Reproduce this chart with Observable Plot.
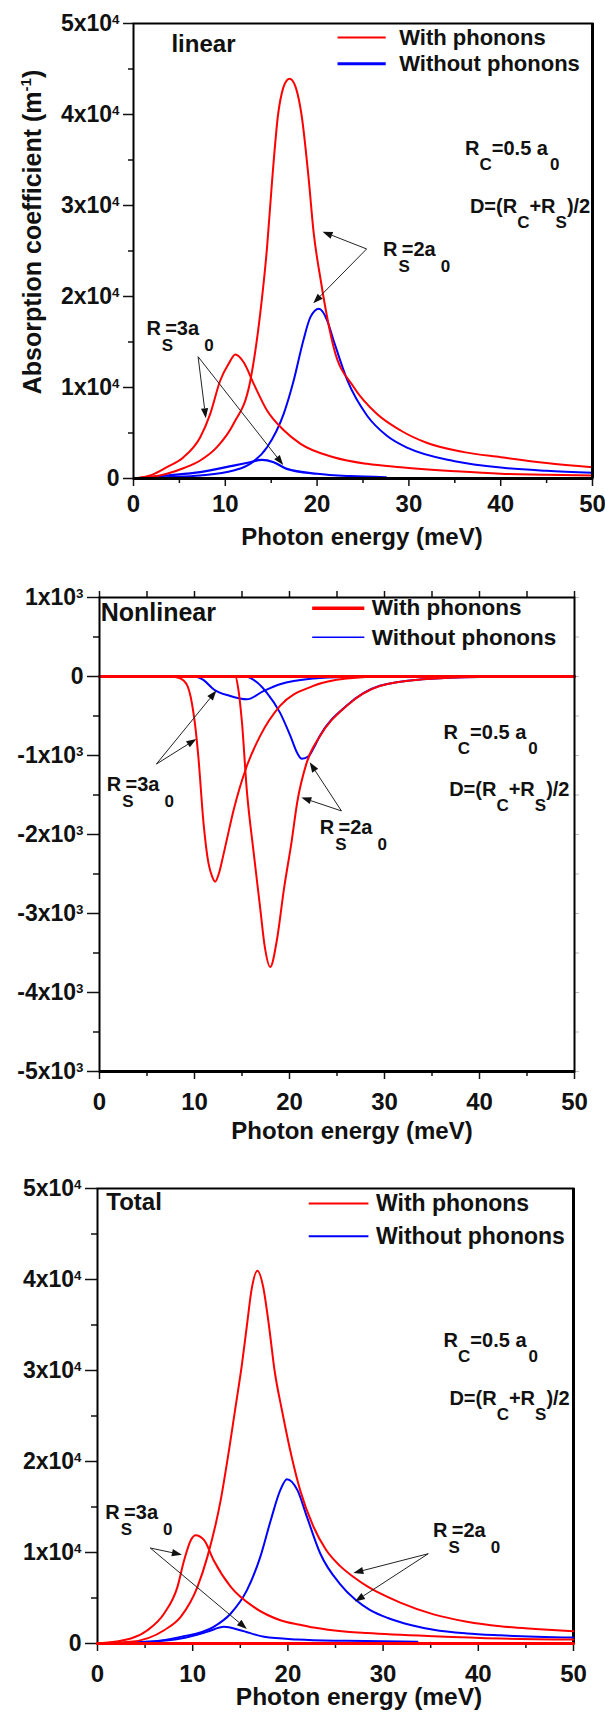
<!DOCTYPE html>
<html><head><meta charset="utf-8">
<script src="https://cdn.jsdelivr.net/npm/d3@7"></script>
<script src="https://cdn.jsdelivr.net/npm/@observablehq/plot@0.6"></script>
<style>
body{margin:0;background:#fff;}
#wrap{position:relative;width:605px;height:1713px;overflow:hidden;background:#fff;}
#wrap > svg{position:absolute;left:0;}
</style></head><body><div id="wrap"></div>
<script>
const FONT = '"Liberation Sans", Arial, Helvetica, sans-serif';
const RED = "#ff0000", BLUE = "#0000ff";

// ---------- tick values ----------
const xMajor = [0, 10, 20, 30, 40, 50];
const xMinor = [5, 15, 25, 35, 45];
const xAll = [0, 5, 10, 15, 20, 25, 30, 35, 40, 45, 50];
const yAbsMajor = [0, 10000, 20000, 30000, 40000, 50000];
const yAbsMinor = [5000, 15000, 25000, 35000, 45000];
const yNlMajor = [-5000, -4000, -3000, -2000, -1000, 0, 1000];
const yNlMinor = [-4500, -3500, -2500, -1500, -500, 500];
const yNlAll = [-5000, -4500, -4000, -3500, -3000, -2500, -2000, -1500, -1000, -500, 0, 500, 1000];

// ---------- Panel 1: linear ----------
const linE_red2 = [0, 2, 3.64, 5.5, 7.27, 9.09, 10.9, 12.73, 13.8, 14.55, 15.1, 15.75, 16.3, 16.7, 17.0, 17.3, 17.7, 18.3, 19.1, 19.6, 20.4, 21.8, 24.0, 26.5, 29.1, 32, 36, 40, 45, 50];
const linV_red2 = [0, 180, 517, 1150, 1978, 3440, 6010, 10770, 18100, 25420, 32750, 40000, 42900, 43750, 43930, 43750, 42900, 40000, 32750, 27250, 21760, 14430, 10030, 7110, 5275, 3900, 2900, 2340, 1700, 1240];
const linE_red3 = [0, 2, 3.64, 5.45, 7.27, 8.36, 9.45, 10.36, 11.09, 12.0, 13.1, 14.55, 16.4, 18.2, 21.8, 25.45, 29.1, 35, 40, 45, 50];
const linV_red3 = [0, 400, 1240, 2340, 4540, 7110, 10770, 12600, 13630, 12780, 10400, 7470, 5275, 3810, 2340, 1610, 1240, 800, 520, 420, 330];
const linE_blue2 = [0, 3.64, 7.27, 10.9, 12.7, 14.55, 16.36, 17.45, 18.5, 19.27, 20.2, 21.1, 21.8, 23.3, 25.45, 27.6, 30, 35, 40, 45, 50];
const linV_blue2 = [0, 150, 330, 880, 1610, 3440, 7110, 10770, 15170, 17730, 18650, 17360, 15170, 10770, 6900, 4700, 3300, 1900, 1200, 850, 630];
const linE_blue3 = [0, 3.64, 7.27, 10.9, 12.7, 14.0, 15.27, 16.7, 20.0, 23.6, 27.5];
const linV_blue3 = [0, 330, 700, 1420, 1790, 2050, 1790, 1060, 520, 260, 140];

// ---------- Panel 2: nonlinear ----------
const nlE_red3 = [0, 7.4, 8.3, 8.84, 9.3, 9.6, 9.85, 10.07, 10.4, 10.95, 11.47, 11.85, 12.18, 12.55, 13.0, 13.4, 14.1, 15.5, 16.9, 19.0, 22.5, 26.0, 30, 50];
const nlV_red3 = [0, 0, -15, -50, -130, -260, -430, -620, -1009, -1855, -2363, -2530, -2597, -2500, -2280, -2067, -1700, -1136, -755, -373, -119, -25, 0, 0];
const nlE_red2 = [0, 14.3, 14.6, 15.0, 15.5, 16.2, 16.9, 17.4, 17.97, 18.67, 19.4, 20.25, 20.8, 21.8, 23.2, 26.0, 29.5, 34, 40, 50];
const nlV_red2 = [0, 0, -150, -585, -1432, -2200, -2915, -3423, -3677, -3338, -2703, -2067, -1601, -1093, -755, -373, -120, -35, -5, 0];
const nlE_blue3 = [0, 10.0, 11.0, 12.0, 13.76, 15.5, 17.3, 19.0, 22.5, 26, 30, 50];
const nlV_blue3 = [0, 0, -50, -161, -246, -288, -182, -98, -25, -5, 0, 0];
const nlE_blue2 = [0, 15.3, 16.6, 17.6, 19.0, 20.1, 20.8, 21.3, 22.0, 22.5, 23.2, 26, 29.5, 34, 40, 50];
const nlV_blue2 = [0, 0, -76, -203, -457, -755, -966, -1042, -1010, -915, -750, -370, -118, -35, -5, 0];

// ---------- Panel 3: total ----------
const totE_red2 = [0, 3.5, 7.0, 8.74, 10.5, 11.54, 12.94, 13.85, 14.5, 15.15, 15.7, 16.2, 16.8, 17.4, 18.0, 18.6, 19.4, 20.4, 21.3, 22.7, 24.0, 25.5, 26.9, 28.3, 29.7, 31.8, 35.3, 38.8, 42.3, 46, 50];
const totV_red2 = [0, 180, 1460, 2920, 6220, 9520, 15750, 21500, 26000, 30500, 35000, 39000, 40950, 39200, 35000, 30000, 25500, 20500, 16800, 12800, 10300, 8500, 7300, 6300, 5500, 4500, 3200, 2400, 1900, 1600, 1350];
const totE_red3 = [0, 3.5, 5.25, 7.0, 8.4, 9.1, 9.8, 10.3, 11.2, 12.2, 14.0, 16.4, 19.2, 21.3, 22.7, 26.2, 28.3, 35.3, 42.3, 50];
const totV_red3 = [0, 550, 1460, 3300, 6220, 9150, 11350, 11900, 11350, 9150, 6220, 4020, 2560, 2050, 1750, 1300, 1150, 800, 550, 440];
const totE_blue2 = [0, 5.25, 8.74, 12.2, 14.0, 15.7, 17.1, 18.2, 19.2, 19.9, 21.0, 22.0, 23.4, 25.5, 27.1, 28.6, 30.5, 33, 35.3, 38.8, 42.3, 50];
const totV_blue2 = [0, 180, 730, 1830, 3300, 5860, 9520, 13550, 16850, 18060, 16850, 13910, 9890, 6500, 4800, 3700, 2800, 2000, 1500, 1100, 900, 660];
const totE_blue3 = [0, 5.25, 8.74, 11.5, 13.3, 15.0, 17.5, 21.0, 26.2, 33.6];
const totV_blue3 = [0, 180, 550, 1280, 1830, 1460, 730, 440, 290, 200];
const zeroE = [0, 50];
const zeroV = [0, 0];

// ---------- labels ----------
const legendLabels = ["With phonons", "Without phonons"];
const panelTitles = ["linear", "Nonlinear", "Total"];
const xTitle = "Photon energy (meV)";

// ---------- helpers ----------
const series = (E, V) => E.map((e, i) => ({E: e, V: V[i]}));
const sci = (exp) => (d) => d === 0 ? "0" : `${d / 10 ** exp}x10^${exp}`;
const line = (E, V, stroke, w = 2) => Plot.line(series(E, V), {x: "E", y: "V", stroke, strokeWidth: w, curve: "monotone-x"});

function notesMark(notes) {
  return (index, scales) => {
    const g = d3.create("svg:g").attr("font-family", FONT).attr("font-weight", "bold")
      .attr("fill", "#111").attr("text-anchor", "start");
    for (const n of notes) {
      const t = g.append("text").attr("x", scales.x(n.x)).attr("y", scales.y(n.y)).attr("font-size", n.size || 20);
      for (const [s, dy, dx, fs] of n.parts) {
        const sp = t.append("tspan").text(s);
        if (dy) sp.attr("dy", dy);
        if (dx) sp.attr("dx", dx);
        if (fs) sp.attr("font-size", fs);
      }
    }
    return g.node();
  };
}
function arrowMark(arrows) {
  // shafts + filled heads positioned through the plot's scales
  return (index, scales) => {
    const g = d3.create("svg:g");
    for (const a of arrows) {
      const x1 = scales.x(a.x1), y1 = scales.y(a.y1), x2 = scales.x(a.x2), y2 = scales.y(a.y2);
      const ang = Math.atan2(y2 - y1, x2 - x1), L = 10, W = 3.6;
      const bx = x2 - L * Math.cos(ang), by = y2 - L * Math.sin(ang);
      g.append("line").attr("x1", x1).attr("y1", y1).attr("x2", bx).attr("y2", by)
        .attr("stroke", "#222").attr("stroke-width", 1);
      const px = -Math.sin(ang) * W, py = Math.cos(ang) * W;
      g.append("path").attr("d", `M${x2},${y2}L${bx + px},${by + py}L${bx - px},${by - py}Z`).attr("fill", "#111");
    }
    return g.node();
  };
}
function titleMark(spec) {
  return () => {
    const g = d3.create("svg:g").attr("font-family", FONT).attr("font-weight", "bold").attr("fill", "#111");
    const t = g.append("text").attr("text-anchor", "middle").attr("font-size", spec.size)
      .attr("transform", `translate(${spec.cx},${spec.by})` + (spec.rotate ? ` rotate(${spec.rotate})` : ""));
    for (const [s, dy, fs] of spec.parts) {
      const sp = t.append("tspan").text(s);
      if (dy) sp.attr("dy", dy);
      if (fs) sp.attr("font-size", fs);
    }
    return g.node();
  };
}
function fixSup(svg) {
  svg.querySelectorAll("text").forEach(t => {
    if (t.children.length === 0 && t.textContent.includes("^")) {
      const [base, sup] = t.textContent.split("^");
      t.textContent = base;
      const ts = document.createElementNS("http://www.w3.org/2000/svg", "tspan");
      ts.setAttribute("dy", "-0.55em");
      ts.setAttribute("font-size", "0.58em");
      ts.textContent = sup;
      t.appendChild(ts);
    }
  });
}
const RS3 = [["R", 0], ["S", 16, 1, 17], ["=3a", -16, -8], ["0", 16, 5, 17]];
const RS2 = [["R", 0], ["S", 16, 1, 17], ["=2a", -16, -8], ["0", 16, 5, 17]];
const RC = [["R", 0], ["C", 15, 0, 17], ["=0.5 a", -15, 0], ["0", 15, 2, 17]];
const DD = [["D=(R", 0], ["C", 15, 0, 17], ["+R", -15, 0], ["S", 15, 0, 17], [")/2", -15, 0]];
const style = {fontFamily: FONT, fontWeight: "bold", fontSize: "24px", color: "#111", background: "white", overflow: "visible"};

// ---------- Panel 1 ----------
const p1 = Plot.plot({
  width: 605, height: 560, marginTop: 23, marginBottom: 82, marginLeft: 133, marginRight: 13,
  x: {domain: [0, 50]}, y: {domain: [0, 50000]}, style,
  marks: [
    Plot.axisX({ticks: xMajor, tickSize: 8, tickPadding: 8, tickFormat: d => String(d), label: null, strokeWidth: 1.5}),
    Plot.axisX({ticks: xMinor, tickSize: 5, tickFormat: () => "", label: null, strokeWidth: 1.5}),
    Plot.axisY({ticks: yAbsMajor, tickSize: 10, tickPadding: 4, tickFormat: sci(4), label: null, strokeWidth: 1.5, fontSize: 23}),
    Plot.axisY({ticks: yAbsMinor, tickSize: 5, tickFormat: () => "", label: null, strokeWidth: 1.5}),
    line(linE_blue3, linV_blue3, BLUE, 2.2),
    line(linE_blue2, linV_blue2, BLUE, 2),
    line(linE_red3, linV_red3, RED, 2),
    line(linE_red2, linV_red2, RED, 2),
    Plot.frame({stroke: "#000", strokeWidth: 2}),
    Plot.ruleY([0], {stroke: "#000", strokeWidth: 3}),
    Plot.ruleX([50], {stroke: "#000", strokeWidth: 3}),
    Plot.ruleY([{y: 48470, x1: 22.28, x2: 27.53}], {y: "y", x1: "x1", x2: "x2", stroke: RED, strokeWidth: 2}),
    Plot.ruleY([{y: 45575, x1: 22.28, x2: 27.53}], {y: "y", x1: "x1", x2: "x2", stroke: BLUE, strokeWidth: 3}),
    arrowMark([
      {x1: 25.45, y1: 25170, x2: 20.65, y2: 27070},
      {x1: 25.45, y1: 25170, x2: 19.63, y2: 19200},
      {x1: 7.09, y1: 13330, x2: 7.93, y2: 6560},
      {x1: 7.09, y1: 13330, x2: 16.36, y2: 1430}
    ]),
    notesMark([
      {x: 4.19, y: 46817, size: 24, parts: [[panelTitles[0], 0]]},
      {x: 29.0, y: 47587, size: 22, parts: [[legendLabels[0], 0]]},
      {x: 29.0, y: 44707, size: 22, parts: [[legendLabels[1], 0]]},
      {x: 36.17, y: 35498, parts: RC},
      {x: 36.7, y: 29124, parts: DD},
      {x: 27.23, y: 24398, parts: RS2},
      {x: 1.46, y: 15716, parts: RS3}
    ]),
    titleMark({cx: 362, by: 545, size: 24, parts: [[xTitle, 0]]}),
    titleMark({cx: 41, by: 232, size: 25, rotate: -90, parts: [["Absorption coefficient (m", 0], ["-1", -10, 15], [")", 10]]})
  ]
});

// ---------- Panel 2 ----------
const p2 = Plot.plot({
  width: 605, height: 590, marginTop: 37, marginBottom: 79, marginLeft: 99, marginRight: 31,
  x: {domain: [0, 50]}, y: {domain: [-5000, 1000]}, style,
  marks: [
    Plot.axisX({ticks: xMajor, tickSize: 8, tickPadding: 13, tickFormat: d => String(d), label: null, strokeWidth: 1.5}),
    Plot.axisX({ticks: xMinor, tickSize: 5, tickFormat: () => "", label: null, strokeWidth: 1.5}),
    Plot.axisX({anchor: "top", ticks: xAll, tickSize: 7, tickFormat: () => "", label: null, strokeWidth: 1.5}),
    Plot.axisY({ticks: yNlMajor, tickSize: 12, tickPadding: 4, tickFormat: sci(3), label: null, strokeWidth: 1.5, fontSize: 23}),
    Plot.axisY({ticks: yNlMinor, tickSize: 6, tickFormat: () => "", label: null, strokeWidth: 1.5}),
    Plot.axisY({anchor: "right", ticks: yNlAll, tickSize: 4, tickFormat: () => "", label: null, stroke: "#bbb", strokeWidth: 1}),
    line(nlE_blue3, nlV_blue3, BLUE, 2),
    line(nlE_blue2, nlV_blue2, BLUE, 2),
    line(nlE_red3, nlV_red3, RED, 2),
    line(nlE_red2, nlV_red2, RED, 2),
    line(zeroE, zeroV, RED, 3),
    Plot.frame({stroke: "#000", strokeWidth: 2}),
    Plot.ruleY([-5000], {stroke: "#000", strokeWidth: 3}),
    Plot.ruleY([{y: 864, x1: 22.44, x2: 27.93}], {y: "y", x1: "x1", x2: "x2", stroke: RED, strokeWidth: 3.5}),
    Plot.ruleY([{y: 496, x1: 22.44, x2: 27.93}], {y: "y", x1: "x1", x2: "x2", stroke: BLUE, strokeWidth: 1.5}),
    arrowMark([
      {x1: 6.04, y1: -1115, x2: 12.36, y2: -183},
      {x1: 6.04, y1: -1115, x2: 10.25, y2: -797},
      {x1: 25.52, y1: -1708, x2: 21.3, y2: -1538},
      {x1: 25.52, y1: -1708, x2: 22.18, y2: -1093}
    ]),
    notesMark([
      {x: 0.18, y: 694, size: 25, parts: [[panelTitles[1], 0]]},
      {x: 28.7, y: 766, size: 22.5, parts: [[legendLabels[0], 0]]},
      {x: 28.7, y: 398, size: 22.5, parts: [[legendLabels[1], 0]]},
      {x: 36.25, y: -797, parts: RC},
      {x: 36.86, y: -1521, parts: DD},
      {x: 0.81, y: -1455, parts: RS3},
      {x: 23.23, y: -2002, parts: RS2}
    ]),
    titleMark({cx: 352, by: 579, size: 24, parts: [[xTitle, 0]]})
  ]
});

// ---------- Panel 3 ----------
const p3 = Plot.plot({
  width: 605, height: 563, marginTop: 38, marginBottom: 70, marginLeft: 97, marginRight: 32,
  x: {domain: [0, 50]}, y: {domain: [0, 50000]}, style,
  marks: [
    Plot.axisX({ticks: xMajor, tickSize: 8, tickPadding: 13, tickFormat: d => String(d), label: null, strokeWidth: 1.5}),
    Plot.axisX({ticks: xMinor, tickSize: 5, tickFormat: () => "", label: null, strokeWidth: 1.5}),
    Plot.axisY({ticks: yAbsMajor, tickSize: 12, tickPadding: 4, tickFormat: sci(4), label: null, strokeWidth: 1.5, fontSize: 23}),
    Plot.axisY({ticks: yAbsMinor, tickSize: 6, tickFormat: () => "", label: null, strokeWidth: 1.5}),
    Plot.frame({stroke: "#000", strokeWidth: 2}),
    Plot.ruleY([0], {stroke: "#000", strokeWidth: 3}),
    Plot.ruleX([50], {stroke: "#000", strokeWidth: 3}),
    line(totE_blue3, totV_blue3, BLUE, 2),
    line(totE_blue2, totV_blue2, BLUE, 2),
    line(totE_red3, totV_red3, RED, 2),
    line(totE_red2, totV_red2, RED, 2),
    line(zeroE, zeroV, RED, 3),
    Plot.ruleY([{y: 48356, x1: 22.24, x2: 28.51}], {y: "y", x1: "x1", x2: "x2", stroke: RED, strokeWidth: 2}),
    Plot.ruleY([{y: 44762, x1: 22.24, x2: 28.51}], {y: "y", x1: "x1", x2: "x2", stroke: BLUE, strokeWidth: 2}),
    arrowMark([
      {x1: 5.59, y1: 10440, x2: 8.92, y2: 9704},
      {x1: 5.59, y1: 10440, x2: 15.74, y2: 1539},
      {x1: 34.8, y1: 9814, x2: 26.93, y2: 7693},
      {x1: 34.8, y1: 9814, x2: 27.1, y2: 4572}
    ]),
    notesMark([
      {x: 0.98, y: 47613, size: 24, parts: [[panelTitles[2], 0]]},
      {x: 29.31, y: 47482, size: 23, parts: [[legendLabels[0], 0]]},
      {x: 29.31, y: 43884, size: 23, parts: [[legendLabels[1], 0]]},
      {x: 36.41, y: 32563, parts: RC},
      {x: 37.02, y: 26189, parts: DD},
      {x: 0.87, y: 13660, parts: RS3},
      {x: 35.29, y: 11683, parts: RS2}
    ]),
    titleMark({cx: 359, by: 555, size: 24.5, parts: [[xTitle, 0]]})
  ]
});

const wrap = document.getElementById("wrap");
[[p1, 0], [p2, 560], [p3, 1150]].forEach(([svg, top]) => {
  fixSup(svg);
  svg.style.top = top + "px";
  wrap.appendChild(svg);
});
</script></body></html>
